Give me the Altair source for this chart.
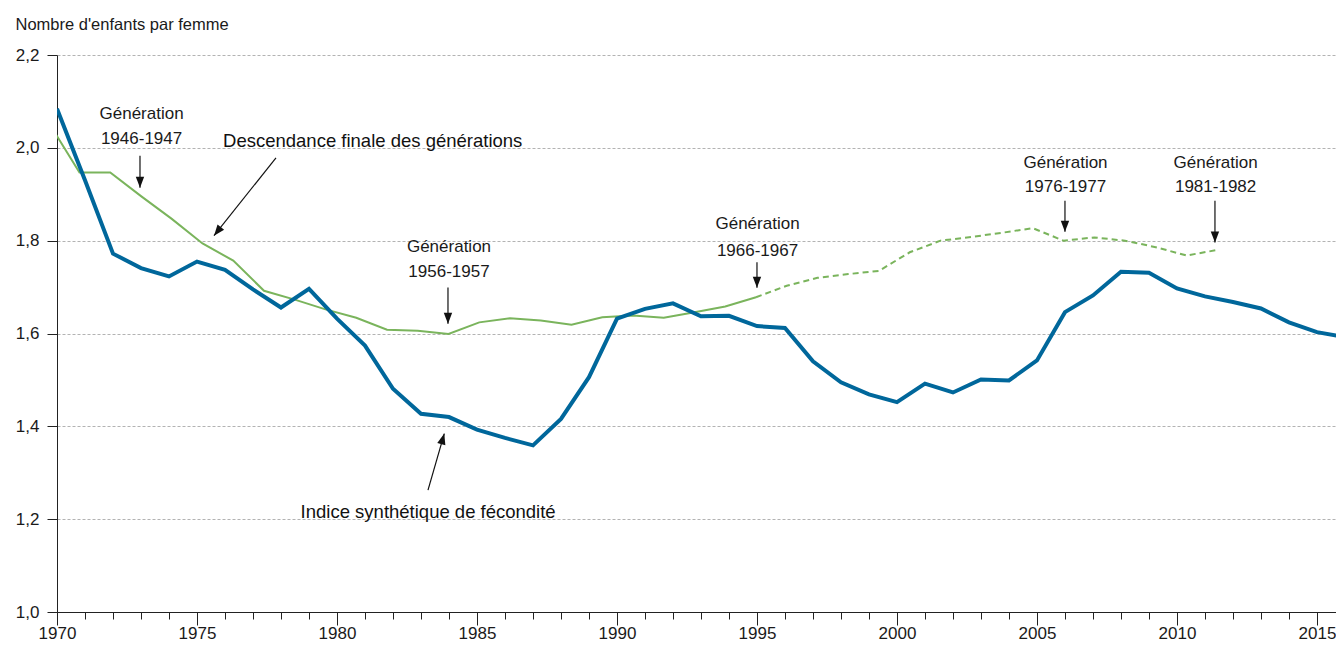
import altair as alt
import pandas as pd

# ---- data ----
years = list(range(1970, 2017))
isf = [2.084, 1.93, 1.772, 1.741, 1.723, 1.755, 1.737, 1.695, 1.656, 1.696,
       1.632, 1.574, 1.481, 1.427, 1.420, 1.393, 1.375, 1.359, 1.416, 1.506,
       1.632, 1.653, 1.665, 1.637, 1.638, 1.616, 1.612, 1.540, 1.495, 1.469,
       1.452, 1.492, 1.473, 1.501, 1.499, 1.542, 1.646, 1.682, 1.733, 1.731,
       1.697, 1.680, 1.668, 1.654, 1.624, 1.603, 1.592]

generations = list(range(1943, 1982))
descendance = [2.054, 1.947, 1.947, 1.896, 1.847, 1.794, 1.757, 1.692, 1.673, 1.652,
               1.634, 1.608, 1.606, 1.599, 1.624, 1.633, 1.628, 1.619, 1.635, 1.639,
               1.634, 1.646, 1.658, 1.678, 1.703, 1.720, 1.728, 1.735, 1.775, 1.800,
               1.808, 1.817, 1.827, 1.800, 1.807, 1.800, 1.786, 1.768, 1.780]
last_observed_generation = 1966

x_labels = list(range(1970, 2020, 5))
y_ticks = [1.0, 1.2, 1.4, 1.6, 1.8, 2.0, 2.2]

# annotation labels (centered)
gen_labels = ["Génération", "1946-1947", "Génération", "1956-1957", "Génération", "1966-1967",
              "Génération", "1976-1977", "Génération", "1981-1982"]
gen_label_x = [1973.02, 1973.02, 1984.0, 1984.0, 1995.02, 1995.02, 2006.02, 2006.02, 2011.38, 2011.38]
gen_label_y = [2.0731, 2.0194, 1.7856, 1.7318, 1.8359, 1.7785, 1.9684, 1.9146, 1.9684, 1.9146]

# annotation labels (left aligned)
side_labels = ["Descendance finale des générations", "Indice synthétique de fécondité"]
side_label_x = [1975.93, 1978.70]
side_label_y = [2.0151, 1.2151]

# arrows: tail (x, y) -> tip (x2, y2), head rotation
arrow_x = [1972.964, 1977.821, 1983.964, 1983.25, 1995.0, 2006.0, 2011.357]
arrow_y = [1.9828, 1.9785, 1.6989, 1.2624, 1.7533, 1.8860, 1.8860]
arrow_x2 = [1972.964, 1975.607, 1983.964, 1983.832, 1995.0, 2006.0, 2011.357]
arrow_y2 = [1.9140, 1.8108, 1.6209, 1.3843, 1.6983, 1.8194, 1.7963]
arrow_angle = [180, 218.5, 180, 15.7, 180, 180, 180]

FONT = "Liberation Sans, Arial, sans-serif"
BLUE = "#00679b"
GREEN = "#7ab45c"
INK = "#1a1a1a"

# ---- tables ----
isf_df = pd.DataFrame({"year": years, "value": isf})
gen_df = pd.DataFrame({"gen": generations, "value": descendance})
solid_df = gen_df[gen_df["gen"] <= last_observed_generation]
dashed_df = gen_df[gen_df["gen"] >= last_observed_generation]
glab_df = pd.DataFrame({"x": gen_label_x, "y": gen_label_y, "t": gen_labels})
slab_df = pd.DataFrame({"x": side_label_x, "y": side_label_y, "t": side_labels})
arr_df = pd.DataFrame({"x": arrow_x, "y": arrow_y, "x2": arrow_x2, "y2": arrow_y2, "a": arrow_angle})

x_scale = alt.Scale(domain=[1970, 2015.68], nice=False, zero=False)
y_scale = alt.Scale(domain=[1.0, 2.2], nice=False, zero=False)
gen_scale = alt.Scale(domain=[1943.268, 1984.862], nice=False, zero=False)

major_x_axis = alt.Axis(
    orient="bottom", values=x_labels, format="d", tickSize=13, grid=False, title=None,
    labelOverlap=False, labelFlush=False, labelBound=False, labelPadding=0,
)
minor_x_axis = alt.Axis(
    orient="bottom", values=years, labels=False, tickSize=7, grid=False, title=None, domain=False,
)
y_axis = alt.Axis(
    orient="left", values=y_ticks,
    labelExpr="replace(format(datum.value, '.1f'), '.', ',')",
    tickSize=10, labelPadding=8, grid=True, gridDash=[3, 2], gridColor="#b3b3b3",
    title="Nombre d'enfants par femme", titleAngle=0, titleAlign="left",
    titleBaseline="alphabetic", titleX=-42, titleY=-26, titleFontSize=16.5,
    titleFontWeight="normal", titleColor=INK,
)


def Y(field):
    return alt.Y(field, scale=y_scale, axis=y_axis)


blue = alt.Chart(isf_df).mark_line(color=BLUE, strokeWidth=4, clip=True).encode(
    x=alt.X("year:Q", scale=x_scale, axis=major_x_axis),
    y=Y("value:Q"),
)
minor_ticks = alt.Chart(isf_df).mark_line(opacity=0, clip=True).encode(
    x=alt.X("year:Q", scale=x_scale, axis=minor_x_axis),
    y=Y("value:Q"),
)

green_solid = alt.Chart(solid_df).mark_line(color=GREEN, strokeWidth=2, clip=True).encode(
    x=alt.X("gen:Q", scale=gen_scale, axis=None),
    y=Y("value:Q"),
)
green_dashed = alt.Chart(dashed_df).mark_line(color=GREEN, strokeWidth=2, strokeDash=[6, 4], clip=True).encode(
    x=alt.X("gen:Q", scale=gen_scale, axis=None),
    y=Y("value:Q"),
)

rules = alt.Chart(arr_df).mark_rule(color="#111", strokeWidth=1.2).encode(
    x=alt.X("x:Q", scale=x_scale, axis=None), y=Y("y:Q"),
    x2="x2:Q", y2="y2:Q",
)
heads = alt.Chart(arr_df).mark_point(
    shape="M0,0L-0.42,1.1L0.42,1.1Z", filled=True, color="#111", opacity=1, size=400
).encode(
    x=alt.X("x2:Q", scale=x_scale, axis=None), y=Y("y2:Q"),
    angle=alt.Angle("a:Q", scale=None),
)

glab = alt.Chart(glab_df).mark_text(
    font=FONT, fontSize=17, align="center", baseline="middle", color=INK
).encode(x=alt.X("x:Q", scale=x_scale, axis=None), y=Y("y:Q"), text="t:N")
slab = alt.Chart(slab_df).mark_text(
    font=FONT, fontSize=18.5, align="left", baseline="middle", color="#111"
).encode(x=alt.X("x:Q", scale=x_scale, axis=None), y=Y("y:Q"), text="t:N")

main = alt.layer(minor_ticks, blue, rules, heads, glab, slab).resolve_axis(x="independent")
green = alt.layer(green_solid, green_dashed)

chart = alt.layer(green, main).resolve_scale(x="independent").properties(
    width=1279, height=557,
    autosize=alt.AutoSizeParams(type="none"),
    padding={"left": 49, "top": 47, "right": 0, "bottom": 30},
).configure_view(stroke=None).configure_axis(
    labelFont=FONT, titleFont=FONT, labelFontSize=17, labelColor=INK,
    domainColor="#222", tickColor="#222", domainWidth=1, tickWidth=1,
)

chart.save("out.html", embed_options={"renderer": "svg", "actions": False})
